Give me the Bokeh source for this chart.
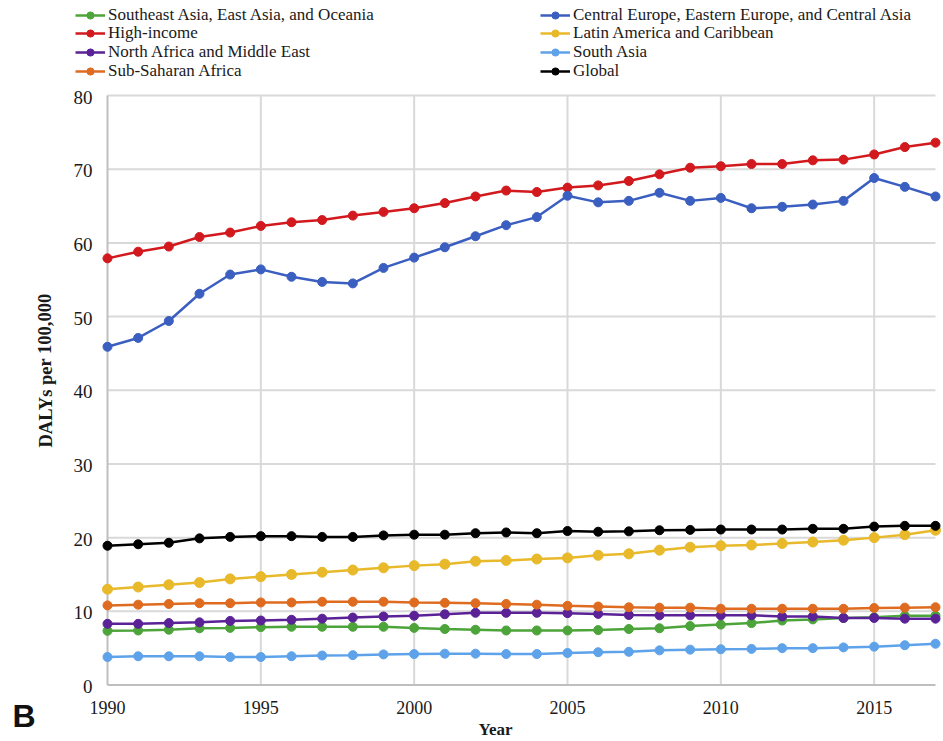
from bokeh.plotting import figure
from bokeh.models import Legend, LegendItem, Label, Range1d
from bokeh.embed import file_html
from bokeh.resources import INLINE

years = list(range(1990, 2018))

se_asia = [7.35, 7.4, 7.5, 7.7, 7.75, 7.85, 7.9, 7.9, 7.9, 7.9, 7.75, 7.6, 7.5, 7.4,
           7.4, 7.4, 7.45, 7.6, 7.7, 8.0, 8.2, 8.4, 8.75, 8.9, 9.1, 9.2, 9.4, 9.4]
central_europe = [45.9, 47.1, 49.4, 53.1, 55.7, 56.4, 55.4, 54.7, 54.5, 56.6, 58.0, 59.4, 60.9, 62.4,
                  63.5, 66.4, 65.5, 65.7, 66.8, 65.7, 66.1, 64.7, 64.9, 65.2, 65.7, 68.8, 67.6, 66.3]
high_income = [57.9, 58.8, 59.5, 60.8, 61.4, 62.3, 62.8, 63.1, 63.7, 64.2, 64.7, 65.4, 66.3, 67.1,
               66.9, 67.5, 67.8, 68.4, 69.3, 70.2, 70.4, 70.7, 70.7, 71.2, 71.3, 72.0, 73.0, 73.6]
latin_america = [13.0, 13.3, 13.6, 13.9, 14.4, 14.7, 15.0, 15.3, 15.6, 15.9, 16.2, 16.4, 16.8, 16.9,
                 17.1, 17.25, 17.6, 17.8, 18.3, 18.7, 18.9, 19.0, 19.2, 19.4, 19.65, 20.0, 20.4, 21.0]
north_africa = [8.3, 8.3, 8.4, 8.5, 8.7, 8.75, 8.85, 9.0, 9.15, 9.3, 9.4, 9.6, 9.8, 9.8,
                9.8, 9.75, 9.65, 9.5, 9.45, 9.45, 9.45, 9.45, 9.3, 9.3, 9.1, 9.1, 9.0, 9.0]
south_asia = [3.8, 3.9, 3.9, 3.9, 3.8, 3.8, 3.9, 4.0, 4.05, 4.15, 4.2, 4.25, 4.25, 4.2,
              4.2, 4.35, 4.45, 4.5, 4.7, 4.8, 4.85, 4.9, 5.0, 5.0, 5.1, 5.2, 5.4, 5.6]
sub_saharan = [10.8, 10.9, 11.0, 11.1, 11.1, 11.2, 11.2, 11.3, 11.3, 11.3, 11.2, 11.15, 11.1, 11.0,
               10.9, 10.75, 10.65, 10.55, 10.5, 10.5, 10.35, 10.35, 10.35, 10.35, 10.35, 10.45, 10.5, 10.55]
global_ = [18.9, 19.1, 19.3, 19.9, 20.1, 20.2, 20.2, 20.1, 20.1, 20.3, 20.4, 20.4, 20.6, 20.7,
           20.6, 20.9, 20.8, 20.85, 21.0, 21.05, 21.1, 21.1, 21.1, 21.2, 21.2, 21.5, 21.6, 21.6]

x_ticks = [1990, 1995, 2000, 2005, 2010, 2015]
y_ticks = [0, 10, 20, 30, 40, 50, 60, 70, 80]
x_tick_labels = [str(t) for t in x_ticks]
y_tick_labels = [str(t) for t in y_ticks]

series_col1 = [
    ("Southeast Asia, East Asia, and Oceania", se_asia, "#4CA43A"),
    ("High-income", high_income, "#D2191E"),
    ("North Africa and Middle East", north_africa, "#5A2296"),
    ("Sub-Saharan Africa", sub_saharan, "#DE6B1F"),
]
series_col2 = [
    ("Central Europe, Eastern Europe, and Central Asia", central_europe, "#3B5FC0"),
    ("Latin America and Caribbean", latin_america, "#E8B92A"),
    ("South Asia", south_asia, "#5EA3EA"),
    ("Global", global_, "#000000"),
]

SERIF = "Liberation Serif"
GRID = "#d9d9d9"
AXIS = "#bfbfbf"
TXT = "#1a1a1a"

W, H = 943, 741
# plot area in canvas pixels: 1990 -> 107, 2017 -> 935 ; 0 -> 684.5, 80 -> 95
PX_L, PX_R, PY_B, PY_T = 107, 935, 684.5, 95
px_per_year = (PX_R - PX_L) / (years[-1] - years[0])
px_per_unit = (PY_B - PY_T) / (y_ticks[-1] - y_ticks[0])
x0 = years[0] - PX_L / px_per_year
x1 = years[-1] + (W - PX_R) / px_per_year
y0 = y_ticks[0] - (H - PY_B) / px_per_unit
y1 = y_ticks[-1] + PY_T / px_per_unit

p = figure(width=W, height=H, output_backend="svg", toolbar_location=None,
           x_range=Range1d(x0, x1), y_range=Range1d(y0, y1),
           x_axis_location=None, y_axis_location=None,
           min_border=0, min_border_left=0, min_border_right=0,
           min_border_top=0, min_border_bottom=0)
p.outline_line_color = None
p.background_fill_color = "white"
p.border_fill_color = "white"
p.xgrid.visible = False
p.ygrid.visible = False

n_y = len(y_ticks) - 1
n_x = len(x_ticks) - 1
# horizontal grid lines
p.segment(x0=[years[0]] * n_y, y0=y_ticks[1:], x1=[years[-1]] * n_y, y1=y_ticks[1:],
          line_color=GRID, line_width=2)
# vertical grid lines
p.segment(x0=x_ticks[1:], y0=[y_ticks[0]] * n_x, x1=x_ticks[1:], y1=[y_ticks[-1]] * n_x,
          line_color=GRID, line_width=2)
# axis lines
p.segment(x0=[years[0], years[0]], y0=[y_ticks[0], y_ticks[0]],
          x1=[years[0], years[-1]], y1=[y_ticks[-1], y_ticks[0]],
          line_color=AXIS, line_width=2)

# tick labels
p.text(x=x_ticks, y=[y_ticks[0]] * len(x_ticks), text=x_tick_labels, y_offset=22.5,
       text_font=SERIF, text_font_size="18px", text_color=TXT,
       text_align="center", text_baseline="middle")
p.text(x=[years[0]] * len(y_ticks), y=y_ticks, text=y_tick_labels, x_offset=-15, y_offset=1.5,
       text_font=SERIF, text_font_size="19px", text_color=TXT,
       text_align="right", text_baseline="middle")

# legend layout (canvas px)
LEG_X = [75, 540]
ROW_Y0, ROW_DY, ITEM_H = 15.6, 18.8, 18

for col, group in enumerate((series_col1, series_col2)):
    for row, (name, vals, color) in enumerate(group):
        size = 10 if color == "#E8B92A" else 9
        l = p.line(years, vals, line_color=color, line_width=2.5)
        s = p.scatter(years, vals, size=size, fill_color=color, line_color=color)
        center_y = ROW_Y0 + ROW_DY * row
        bottom_from_base = H - (center_y + ITEM_H / 2)
        lg = Legend(items=[LegendItem(label=name, renderers=[l, s])],
                    location=(LEG_X[col], bottom_from_base), orientation="vertical",
                    label_text_font=SERIF, label_text_font_size="17px", label_text_color=TXT,
                    label_text_line_height=1.0,
                    label_height=ITEM_H, glyph_height=ITEM_H, glyph_width=30, label_standoff=3,
                    spacing=0, padding=0, margin=0,
                    background_fill_alpha=0, border_line_color=None)
        p.add_layout(lg, "center")

p.add_layout(Label(x=495, y=12, x_units="screen", y_units="screen", text="Year",
                   text_font=SERIF, text_font_style="bold", text_font_size="17px",
                   text_color=TXT, text_align="center", text_baseline="middle"))
p.add_layout(Label(x=45, y=371, x_units="screen", y_units="screen", text="DALYs per 100,000",
                   text_font=SERIF, text_font_style="bold", text_font_size="18.5px",
                   text_color=TXT, angle=1.5708, text_align="center", text_baseline="middle"))
p.add_layout(Label(x=12, y=25.5, x_units="screen", y_units="screen", text="B",
                   text_font="Liberation Sans", text_font_style="bold", text_font_size="32px",
                   text_color="#111111", text_align="left", text_baseline="middle"))

open("out.html", "w").write(file_html(p, INLINE))
